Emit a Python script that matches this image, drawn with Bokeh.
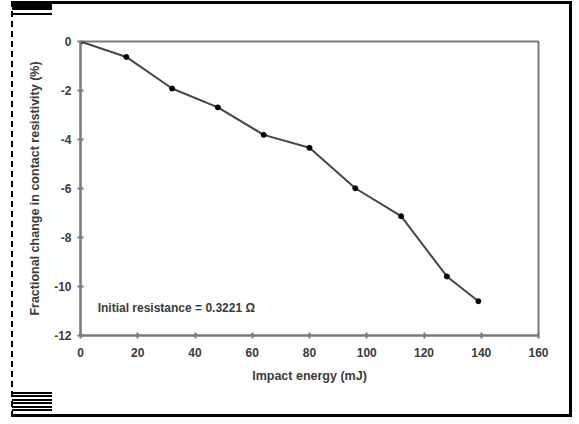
from bokeh.plotting import figure
from bokeh.models import Label, FixedTicker, InlineStyleSheet
from bokeh.embed import file_html
from bokeh.resources import INLINE

energy_mJ = [0, 16, 32, 48, 64, 80, 96, 112, 128, 139]
fractional_change = [0, -0.63, -1.92, -2.69, -3.81, -4.34, -5.99, -7.13, -9.59, -10.6]
x_ticks = [0, 20, 40, 60, 80, 100, 120, 140, 160]
y_ticks = [0, -2, -4, -6, -8, -10, -12]
note = "Initial resistance = 0.3221 \u03a9"

FONT = "Liberation Sans"
GRAY = "#7a7a7a"
TXT = "#3a3a3a"

p = figure(width=561, height=416, output_backend="svg", toolbar_location=None,
           x_range=(0, 160), y_range=(-12, 0),
           min_border_left=67, min_border_right=36, min_border_top=37, min_border_bottom=85)
p.styles = {"margin-left": "11px", "margin-top": "1px", "position": "relative",
            "border-top": "3px solid black", "border-right": "3px solid black",
            "border-bottom": "3px solid black", "border-left": "2px dashed black"}
p.stylesheets = [InlineStyleSheet(css="""
:host::before { content: ""; position: absolute; z-index: 10; left: -1px; top: 0px;
  width: 40px; height: 11px;
  background: linear-gradient(black 0 6px, transparent 6px 9px, black 9px 11px); }
:host::after { content: ""; position: absolute; z-index: 10; left: -1px; bottom: 2px;
  width: 40px; height: 20px;
  background: repeating-linear-gradient(black 0 2px, transparent 2px 3.4px); }
""")]
p.background_fill_color = "white"
p.border_fill_color = "white"
p.grid.visible = False
p.outline_line_color = GRAY
p.outline_line_width = 2

for ax in (p.xaxis, p.yaxis):
    ax.axis_line_color = GRAY
    ax.axis_line_width = 2
    ax.major_tick_line_color = GRAY
    ax.major_tick_line_width = 2
    ax.major_tick_out = 3
    ax.major_tick_in = 3
    ax.minor_tick_line_color = None
    ax.major_label_text_font = FONT
    ax.major_label_text_font_style = "bold"
    ax.major_label_text_font_size = "12px"
    ax.major_label_text_color = TXT
    ax.axis_label_text_font = FONT
    ax.axis_label_text_font_style = "bold"
    ax.axis_label_text_font_size = "12.5px"
    ax.axis_label_text_color = TXT

p.xaxis.ticker = FixedTicker(ticks=x_ticks)
p.yaxis.ticker = FixedTicker(ticks=y_ticks)
p.xaxis.major_label_overrides = {t: str(t) for t in x_ticks}
p.yaxis.major_label_overrides = {t: str(t) for t in y_ticks}
p.xaxis.axis_label = "Impact energy (mJ)"
p.yaxis.axis_label = "Fractional change in contact resistivity (%)"
p.xaxis.major_label_standoff = 9
p.xaxis.axis_label_standoff = 9
p.yaxis.major_label_standoff = 6
p.yaxis.axis_label_standoff = 9

p.line(energy_mJ, fractional_change, line_color="#454545", line_width=2)
p.scatter(energy_mJ, fractional_change, size=5, fill_color="black", line_color="black")

p.add_layout(Label(x=6, y=-10.86, text=note, text_font=FONT, text_font_style="bold",
                   text_font_size="12px", text_color=TXT, text_baseline="middle"))

open("out.html", "w").write(file_html(p, INLINE))
